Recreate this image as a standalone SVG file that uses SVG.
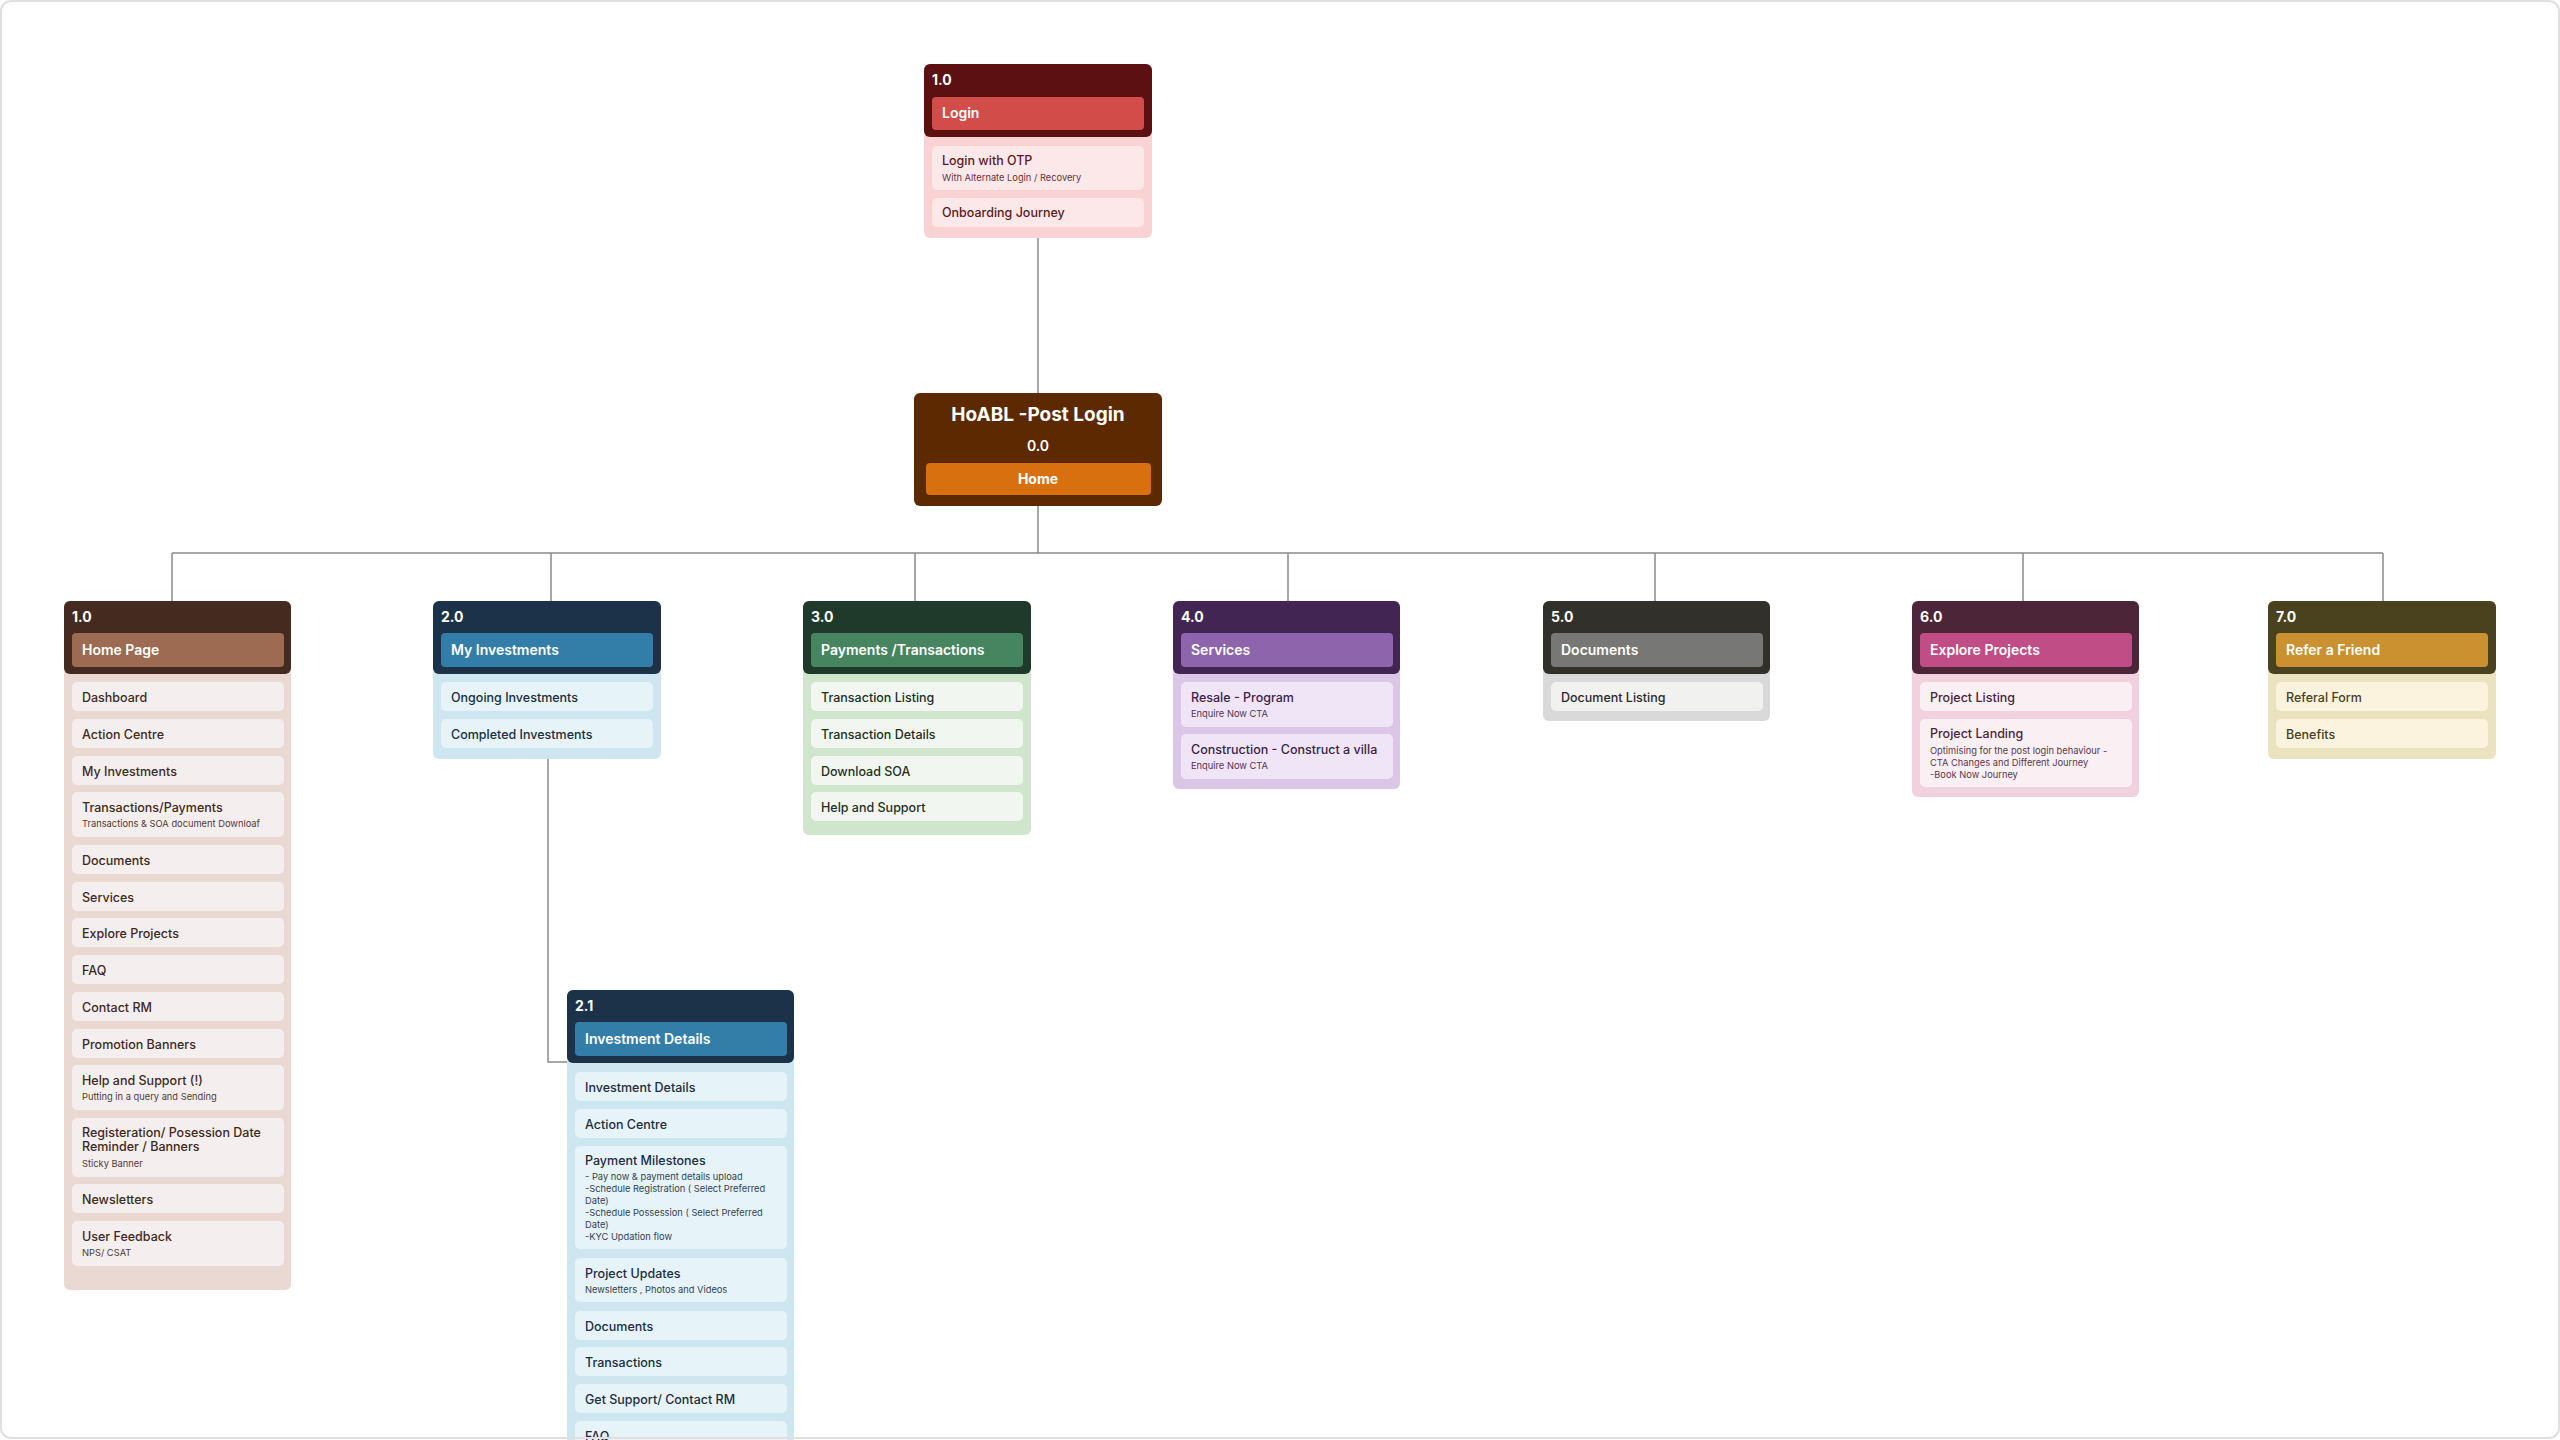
<svg xmlns="http://www.w3.org/2000/svg" width="2560" height="1440" viewBox="0 0 2560 1440">
<style>
text{font-family:Inter,"Noto Sans","Liberation Sans",sans-serif}
.num{font-size:14px;font-weight:700;fill:#fff}
.ttl{font-size:14px;font-weight:600;fill:#fff}
.it{font-size:12.5px;font-weight:450}
.sub{font-size:9.3px;font-weight:400;opacity:.9}
.conn{stroke:#8a8a8a;stroke-width:1.5;fill:none}
.login .body{fill:#f9d3d4}.login .hd{fill:#5d1012}.login .bar{fill:#d24d4a}.login .item{fill:#fde8e9}.login .it,.login .sub{fill:#5a1a1c}
.brown .body{fill:#ead9d2}.brown .hd{fill:#452a1f}.brown .bar{fill:#9c6b52}.brown .item{fill:#f4eeee}.brown .it,.brown .sub{fill:#3d2a22}
.blue .body{fill:#cde6f0}.blue .hd{fill:#1c3249}.blue .bar{fill:#327ea9}.blue .item{fill:#e6f3f8}.blue .it,.blue .sub{fill:#1c2e40}
.green .body{fill:#cfe5cc}.green .hd{fill:#1f3a2a}.green .bar{fill:#478561}.green .item{fill:#f1f7f0}.green .it,.green .sub{fill:#1f2f24}
.purple .body{fill:#dcc6e8}.purple .hd{fill:#422552}.purple .bar{fill:#8e64ad}.purple .item{fill:#f0e5f6}.purple .it,.purple .sub{fill:#3a2448}
.gray .body{fill:#d9d9d9}.gray .hd{fill:#32302a}.gray .bar{fill:#777775}.gray .item{fill:#f1f1f0}.gray .it,.gray .sub{fill:#2a2a28}
.pink .body{fill:#f0d1dd}.pink .hd{fill:#4c2538}.pink .bar{fill:#c04d85}.pink .item{fill:#faf0f4}.pink .it,.pink .sub{fill:#4a2538}
.gold .body{fill:#ebe3bf}.gold .hd{fill:#4a421e}.gold .bar{fill:#cb902f}.gold .item{fill:#fbf3de}.gold .it,.gold .sub{fill:#4a4020}
</style>
<rect x="0" y="0" width="2560" height="1440" fill="#fff"/>

<g id="connectors">
<path class="conn" d="M1038 238V393"/>
<path class="conn" d="M1038 506V553"/>
<path class="conn" d="M172 553H2383"/>
<path class="conn" d="M172 553V601M551 553V601M915 553V601M1288 553V601M1655 553V601M2023 553V601M2383 553V601"/>
<path class="conn" d="M548 759V1062H567"/>
</g>

<g id="node-login" class="login">
<rect class="body" x="924" y="64" width="228" height="174" rx="6"/>
<rect class="hd" x="924" y="64" width="228" height="73" rx="6"/>
<text class="num" x="932" y="85">1.0</text>
<rect class="bar" x="932" y="97" width="212" height="33" rx="4"/>
<text class="ttl" x="942" y="118">Login</text>
<rect class="item" x="932" y="146" width="212" height="44" rx="5"/>
<text class="it" x="942" y="165">Login with OTP</text>
<text class="sub" x="942" y="181">With Alternate Login / Recovery</text>
<rect class="item" x="932" y="198" width="212" height="29" rx="5"/>
<text class="it" x="942" y="217">Onboarding Journey</text>
</g>

<g id="node-home">
<rect x="914" y="393" width="248" height="113" rx="6" fill="#5c2900"/>
<text x="1038" y="421" text-anchor="middle" font-size="19" font-weight="700" fill="#fff">HoABL -Post Login</text>
<text x="1038" y="451" text-anchor="middle" font-size="14" font-weight="600" fill="#fff">0.0</text>
<rect x="926" y="463" width="225" height="32" rx="4" fill="#d9700f"/>
<text x="1038" y="484" text-anchor="middle" font-size="14" font-weight="700" fill="#fff">Home</text>
</g>

<g id="node-1-0" class="brown">
<rect class="body" x="64" y="601" width="227" height="689" rx="6"/>
<rect class="hd" x="64" y="601" width="227" height="73" rx="6"/>
<text class="num" x="72" y="622">1.0</text>
<rect class="bar" x="72" y="633" width="212" height="34" rx="4"/>
<text class="ttl" x="82" y="655">Home Page</text>
<rect class="item" x="72" y="682" width="212" height="29" rx="5"/><text class="it" x="82" y="702">Dashboard</text>
<rect class="item" x="72" y="719" width="212" height="29" rx="5"/><text class="it" x="82" y="739">Action Centre</text>
<rect class="item" x="72" y="756" width="212" height="29" rx="5"/><text class="it" x="82" y="776">My Investments</text>
<rect class="item" x="72" y="792" width="212" height="45" rx="5"/><text class="it" x="82" y="812">Transactions/Payments</text><text class="sub" x="82" y="827">Transactions &amp; SOA document Downloaf</text>
<rect class="item" x="72" y="845" width="212" height="29" rx="5"/><text class="it" x="82" y="865">Documents</text>
<rect class="item" x="72" y="882" width="212" height="29" rx="5"/><text class="it" x="82" y="902">Services</text>
<rect class="item" x="72" y="918" width="212" height="29" rx="5"/><text class="it" x="82" y="938">Explore Projects</text>
<rect class="item" x="72" y="955" width="212" height="29" rx="5"/><text class="it" x="82" y="975">FAQ</text>
<rect class="item" x="72" y="992" width="212" height="29" rx="5"/><text class="it" x="82" y="1012">Contact RM</text>
<rect class="item" x="72" y="1029" width="212" height="29" rx="5"/><text class="it" x="82" y="1049">Promotion Banners</text>
<rect class="item" x="72" y="1065" width="212" height="45" rx="5"/><text class="it" x="82" y="1085">Help and Support (!)</text><text class="sub" x="82" y="1100">Putting in a query and Sending</text>
<rect class="item" x="72" y="1118" width="212" height="59" rx="5"/><text class="it" x="82" y="1137">Registeration/ Posession Date</text><text class="it" x="82" y="1151">Reminder / Banners</text><text class="sub" x="82" y="1167">Sticky Banner</text>
<rect class="item" x="72" y="1184" width="212" height="29" rx="5"/><text class="it" x="82" y="1204">Newsletters</text>
<rect class="item" x="72" y="1221" width="212" height="45" rx="5"/><text class="it" x="82" y="1241">User Feedback</text><text class="sub" x="82" y="1256">NPS/ CSAT</text>
</g>

<g id="node-2-0" class="blue">
<rect class="body" x="433" y="601" width="228" height="158" rx="6"/>
<rect class="hd" x="433" y="601" width="228" height="73" rx="6"/>
<text class="num" x="441" y="622">2.0</text>
<rect class="bar" x="441" y="633" width="212" height="34" rx="4"/>
<text class="ttl" x="451" y="655">My Investments</text>
<rect class="item" x="441" y="682" width="212" height="29" rx="5"/><text class="it" x="451" y="702">Ongoing Investments</text>
<rect class="item" x="441" y="719" width="212" height="29" rx="5"/><text class="it" x="451" y="739">Completed Investments</text>
</g>

<g id="node-2-1" class="blue">
<rect class="body" x="567" y="990" width="227" height="480" rx="6"/>
<rect class="hd" x="567" y="990" width="227" height="73" rx="6"/>
<text class="num" x="575" y="1011">2.1</text>
<rect class="bar" x="575" y="1022" width="212" height="34" rx="4"/>
<text class="ttl" x="585" y="1044">Investment Details</text>
<rect class="item" x="575" y="1072" width="212" height="29" rx="5"/><text class="it" x="585" y="1092">Investment Details</text>
<rect class="item" x="575" y="1109" width="212" height="29" rx="5"/><text class="it" x="585" y="1129">Action Centre</text>
<rect class="item" x="575" y="1146" width="212" height="103" rx="5"/><text class="it" x="585" y="1165">Payment Milestones</text>
<text class="sub" x="585" y="1180">- Pay now &amp; payment details upload</text>
<text class="sub" x="585" y="1192">-Schedule Registration ( Select Preferred</text>
<text class="sub" x="585" y="1204">Date)</text>
<text class="sub" x="585" y="1216">-Schedule Possession ( Select Preferred</text>
<text class="sub" x="585" y="1228">Date)</text>
<text class="sub" x="585" y="1240">-KYC Updation flow</text>
<rect class="item" x="575" y="1258" width="212" height="44" rx="5"/><text class="it" x="585" y="1278">Project Updates</text><text class="sub" x="585" y="1293">Newsletters , Photos and Videos</text>
<rect class="item" x="575" y="1311" width="212" height="29" rx="5"/><text class="it" x="585" y="1331">Documents</text>
<rect class="item" x="575" y="1347" width="212" height="29" rx="5"/><text class="it" x="585" y="1367">Transactions</text>
<rect class="item" x="575" y="1384" width="212" height="29" rx="5"/><text class="it" x="585" y="1404">Get Support/ Contact RM</text>
<rect class="item" x="575" y="1421" width="212" height="29" rx="5"/><text class="it" x="585" y="1441">FAQ</text>
</g>

<g id="node-3-0" class="green">
<rect class="body" x="803" y="601" width="228" height="234" rx="6"/>
<rect class="hd" x="803" y="601" width="228" height="73" rx="6"/>
<text class="num" x="811" y="622">3.0</text>
<rect class="bar" x="811" y="633" width="212" height="34" rx="4"/>
<text class="ttl" x="821" y="655">Payments /Transactions</text>
<rect class="item" x="811" y="682" width="212" height="29" rx="5"/><text class="it" x="821" y="702">Transaction Listing</text>
<rect class="item" x="811" y="719" width="212" height="29" rx="5"/><text class="it" x="821" y="739">Transaction Details</text>
<rect class="item" x="811" y="756" width="212" height="29" rx="5"/><text class="it" x="821" y="776">Download SOA</text>
<rect class="item" x="811" y="792" width="212" height="29" rx="5"/><text class="it" x="821" y="812">Help and Support</text>
</g>

<g id="node-4-0" class="purple">
<rect class="body" x="1173" y="601" width="227" height="188" rx="6"/>
<rect class="hd" x="1173" y="601" width="227" height="73" rx="6"/>
<text class="num" x="1181" y="622">4.0</text>
<rect class="bar" x="1181" y="633" width="212" height="34" rx="4"/>
<text class="ttl" x="1191" y="655">Services</text>
<rect class="item" x="1181" y="682" width="212" height="45" rx="5"/><text class="it" x="1191" y="702">Resale - Program</text><text class="sub" x="1191" y="717">Enquire Now CTA</text>
<rect class="item" x="1181" y="734" width="212" height="45" rx="5"/><text class="it" x="1191" y="754">Construction - Construct a villa</text><text class="sub" x="1191" y="769">Enquire Now CTA</text>
</g>

<g id="node-5-0" class="gray">
<rect class="body" x="1543" y="601" width="227" height="120" rx="6"/>
<rect class="hd" x="1543" y="601" width="227" height="73" rx="6"/>
<text class="num" x="1551" y="622">5.0</text>
<rect class="bar" x="1551" y="633" width="212" height="34" rx="4"/>
<text class="ttl" x="1561" y="655">Documents</text>
<rect class="item" x="1551" y="682" width="212" height="29" rx="5"/><text class="it" x="1561" y="702">Document Listing</text>
</g>

<g id="node-6-0" class="pink">
<rect class="body" x="1912" y="601" width="227" height="196" rx="6"/>
<rect class="hd" x="1912" y="601" width="227" height="73" rx="6"/>
<text class="num" x="1920" y="622">6.0</text>
<rect class="bar" x="1920" y="633" width="212" height="34" rx="4"/>
<text class="ttl" x="1930" y="655">Explore Projects</text>
<rect class="item" x="1920" y="682" width="212" height="29" rx="5"/><text class="it" x="1930" y="702">Project Listing</text>
<rect class="item" x="1920" y="719" width="212" height="68" rx="5"/><text class="it" x="1930" y="738">Project Landing</text>
<text class="sub" x="1930" y="754">Optimising for the post login behaviour -</text>
<text class="sub" x="1930" y="766">CTA Changes and Different Journey</text>
<text class="sub" x="1930" y="778">-Book Now Journey</text>
</g>

<g id="node-7-0" class="gold">
<rect class="body" x="2268" y="601" width="228" height="158" rx="6"/>
<rect class="hd" x="2268" y="601" width="228" height="73" rx="6"/>
<text class="num" x="2276" y="622">7.0</text>
<rect class="bar" x="2276" y="633" width="212" height="34" rx="4"/>
<text class="ttl" x="2286" y="655">Refer a Friend</text>
<rect class="item" x="2276" y="682" width="212" height="29" rx="5"/><text class="it" x="2286" y="702">Referal Form</text>
<rect class="item" x="2276" y="719" width="212" height="29" rx="5"/><text class="it" x="2286" y="739">Benefits</text>
</g>

<rect x="1" y="1" width="2558" height="1437" rx="10" fill="none" stroke="#e0e0e0" stroke-width="2"/>
</svg>
